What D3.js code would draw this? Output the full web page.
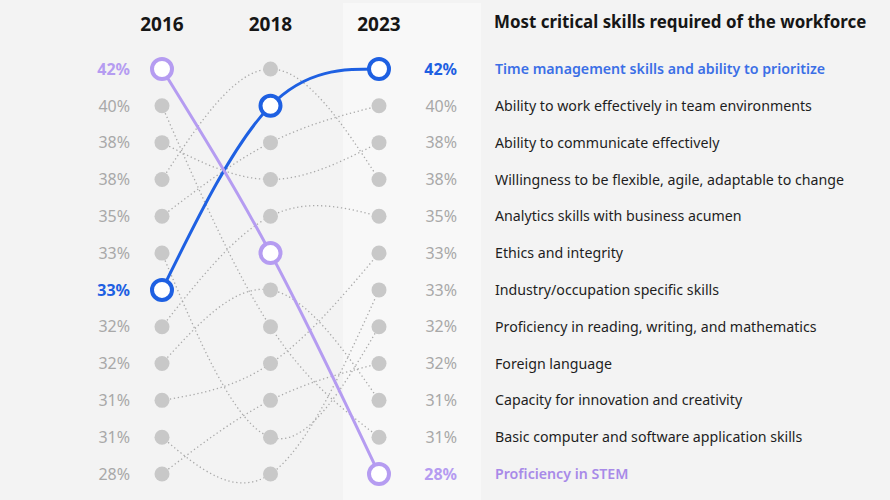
<!DOCTYPE html>
<html>
<head>
<meta charset="utf-8">
<script src="https://cdn.jsdelivr.net/npm/d3@7"></script>
<style>
  html, body { margin: 0; padding: 0; background: #f3f3f3; }
  svg { display: block; }
  text { font-family: "Noto Sans", "Open Sans", sans-serif; }
</style>
</head>
<body>
<svg id="chart" width="890" height="500"></svg>
<script>
const years = ["2016", "2018", "2023"];
const skills = [
  "Time management skills and ability to prioritize",
  "Ability to work effectively in team environments",
  "Ability to communicate effectively",
  "Willingness to be flexible, agile, adaptable to change",
  "Analytics skills with business acumen",
  "Ethics and integrity",
  "Industry/occupation specific skills",
  "Proficiency in reading, writing, and mathematics",
  "Foreign language",
  "Capacity for innovation and creativity",
  "Basic computer and software application skills",
  "Proficiency in STEM"
];
const rank2016 = [7, 5, 3, 4, 8, 10, 11, 6, 12, 9, 2, 1];
const rank2018 = [2, 3, 4, 1, 5, 9, 12, 11, 10, 7, 8, 6];
const rank2023 = [1, 2, 3, 4, 5, 6, 7, 8, 9, 10, 11, 12];
const pct2023 = [42, 40, 38, 38, 35, 33, 33, 32, 32, 31, 31, 28];
const rowLabels = ["42%", "40%", "38%", "38%", "35%", "33%", "33%", "32%", "32%", "31%", "31%", "28%"];
const title = "Most critical skills required of the workforce";
const highlight = { 0: "#1e60e2", 11: "#b59cf1" };
const labelHighlight = { 0: "#3b6fe6", 11: "#a88ae8" };

const svg = d3.select("#chart");
const ranks = d3.range(1, 13);
const x = d3.scalePoint().domain(years).range([162, 379]);
const y = d3.scalePoint().domain(ranks).range([69, 474]);

svg.append("rect").attr("x", 0).attr("y", 0).attr("width", 890).attr("height", 500).attr("fill", "#f3f3f3");
svg.append("rect").attr("x", 343).attr("y", 3).attr("width", 138).attr("height", 497).attr("fill", "#f8f8f8");

const series = skills.map((s, i) => ({
  skill: s, i,
  pts: [[years[0], rank2016[i]], [years[1], rank2018[i]], [years[2], rank2023[i]]]
}));

const line = d3.line().x(d => x(d[0])).y(d => y(d[1])).curve(d3.curveNatural);

svg.append("g").selectAll("path")
  .data(series.filter(d => !(d.i in highlight)))
  .join("path")
  .attr("d", d => line(d.pts))
  .attr("fill", "none")
  .attr("stroke", "#a9a9a9")
  .attr("stroke-width", 1.3)
  .attr("stroke-dasharray", "1.3,2.7");

svg.append("g").selectAll("circle")
  .data(years.flatMap(yr => ranks.map(r => [yr, r])))
  .join("circle")
  .attr("cx", d => x(d[0]))
  .attr("cy", d => y(d[1]))
  .attr("r", 7.5)
  .attr("fill", "#c8c8c8");

const hs = series.filter(d => d.i in highlight);
svg.append("g").selectAll("path")
  .data(hs)
  .join("path")
  .attr("d", d => line(d.pts))
  .attr("fill", "none")
  .attr("stroke", d => highlight[d.i])
  .attr("stroke-width", 3);

svg.append("g").selectAll("circle")
  .data(hs.flatMap(d => d.pts.map(p => ({ p, c: highlight[d.i] }))))
  .join("circle")
  .attr("cx", d => x(d.p[0]))
  .attr("cy", d => y(d.p[1]))
  .attr("r", 10)
  .attr("fill", "#ffffff")
  .attr("stroke", d => d.c)
  .attr("stroke-width", 4);

svg.append("g").selectAll("text")
  .data(years)
  .join("text")
  .attr("x", d => x(d))
  .attr("y", 31)
  .attr("text-anchor", "middle")
  .attr("font-size", 19)
  .attr("font-weight", 700)
  .attr("fill", "#161616")
  .text(d => d);

const leftColor = r => {
  const s16 = rank2016.indexOf(r);
  return (s16 in highlight) ? highlight[s16] : "#a8a8a8";
};
svg.append("g").selectAll("text")
  .data(ranks)
  .join("text")
  .attr("x", 130)
  .attr("y", r => y(r))
  .attr("dy", "0.36em")
  .attr("text-anchor", "end")
  .attr("font-size", 16)
  .attr("font-weight", r => (rank2016.indexOf(r) in highlight) ? 700 : 400)
  .attr("fill", leftColor)
  .text(r => rowLabels[r - 1]);

svg.append("g").selectAll("text")
  .data(skills.map((s, i) => i))
  .join("text")
  .attr("x", 457)
  .attr("y", i => y(rank2023[i]))
  .attr("dy", "0.36em")
  .attr("text-anchor", "end")
  .attr("font-size", 16)
  .attr("font-weight", i => (i in highlight) ? 700 : 400)
  .attr("fill", i => (i in highlight) ? highlight[i] : "#a8a8a8")
  .text(i => pct2023[i] + "%");

svg.append("g").selectAll("text")
  .data(skills.map((s, i) => i))
  .join("text")
  .attr("x", 495)
  .attr("y", i => y(rank2023[i]))
  .attr("dy", "0.36em")
  .attr("font-size", 14.2)
  .attr("font-weight", i => (i in highlight) ? 600 : 400)
  .attr("fill", i => (i in labelHighlight) ? labelHighlight[i] : "#1e1e1e")
  .text(i => skills[i]);

svg.append("text")
  .attr("x", 494)
  .attr("y", 28)
  .attr("font-size", 16.9)
  .attr("font-weight", 700)
  .attr("fill", "#161616")
  .text(title);
</script>
</body>
</html>
